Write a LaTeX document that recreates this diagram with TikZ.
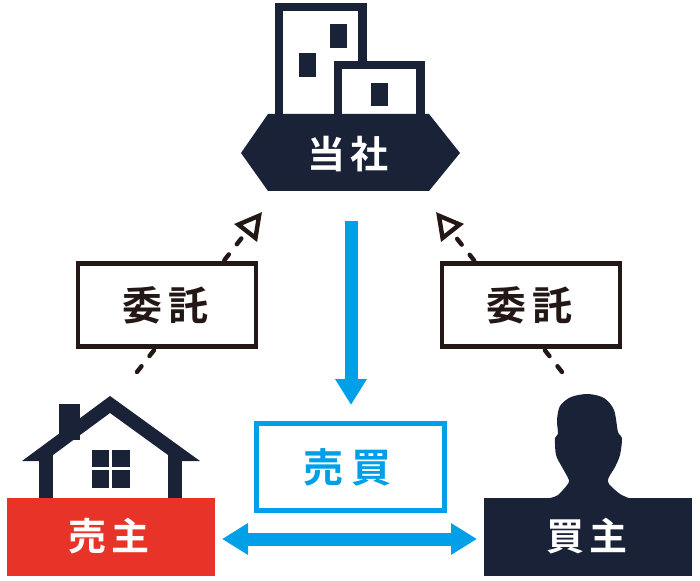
\documentclass[tikz,border=0pt]{standalone}
\usepackage{fontspec}
\usetikzlibrary{arrows.meta}
\newfontfamily\jpfont{Noto Sans CJK JP Bold}
\definecolor{navy}{HTML}{1A2238}
\definecolor{skyblue}{HTML}{00A0E9}
\definecolor{sellred}{HTML}{E83428}
\definecolor{inkk}{HTML}{231815}
\tikzset{
  jp/.style={font=\jpfont\fontsize{30}{30}\selectfont},
  jpsmall/.style={font=\jpfont\fontsize{28.5}{28.5}\selectfont},
  bannerbox/.style={draw=none,inner sep=0pt,outer sep=0pt,jpsmall,text=white},
  commission/.style={draw=inkk,line width=3.3pt,fill=white,minimum width=133.5pt,minimum height=62pt,inner sep=0pt,jp,text=inkk},
  trade/.style={draw=skyblue,line width=3.3pt,fill=white,minimum width=141pt,minimum height=65pt,inner sep=0pt,jp,text=skyblue},
  dashlink/.style={draw=inkk,line width=3.3pt,line cap=round,dash pattern=on 5.5pt off 9.7pt,
    -{Triangle[open,length=20pt,width=21pt,line width=3.3pt,line cap=butt]}},
  flow/.style={draw=skyblue,line width=9.75pt},
  flowtip/.tip={Triangle[length=19.5pt,width=22.5pt]},
}
\begin{document}
\begin{tikzpicture}[x=0.75pt,y=-0.75pt]
\useasboundingbox (0,0) rectangle (700,581);
% company building
\draw[navy,line width=6.2pt,fill=white] (279,120) -- (279,7) -- (362.5,7) -- (362.5,120);
\draw[navy,line width=6.2pt,fill=white] (338,120) -- (338,65) -- (420.5,65) -- (420.5,120);
\fill[navy] (329.5,24) rectangle (347,48);
\fill[navy] (299,53.5) rectangle (316,77);
\fill[navy] (370.5,83) rectangle (388,106);
\fill[navy] (268,114) -- (429,114) -- (460,153) -- (429,191) -- (268,191) -- (241,153) -- cycle;
\node[bannerbox] (company) at (348,154.5) {当\hspace{0.12em}社};
% house
\fill[navy] (39,455) rectangle (53,500);
\fill[navy] (168,455) rectangle (182,500);
\fill[navy] (59,404) rectangle (80,440);
\fill[navy] (110,396) -- (200,461) -- (182,461) -- (168,455) -- (110,413) -- (53,455) -- (39,461) -- (22,461) -- cycle;
\fill[navy] (92,449.5) rectangle (109,467);
\fill[navy] (112,449.5) rectangle (130,467);
\fill[navy] (92,470) rectangle (109,488);
\fill[navy] (112,470) rectangle (130,488);
\fill[sellred] (7,498) rectangle (214.5,576);
\node[bannerbox] (seller) at (109,536) {売\hspace{0.15em}主};
% buyer
\fill[navy] plot[smooth,tension=0.5] coordinates {(548,498.5) (558,495) (568.5,483) (568,478) (562,467) (556,455) (555,438) (558,434) (557,420) (560,406) (571,397) (588,394) (604,398) (614,410) (618,432) (622,438) (620,455) (615,467) (608.5,478) (609,484) (620,494) (630,498.5)};
\fill[navy] (484,498) rectangle (692,576);
\node[bannerbox] (buyer) at (587,536) {買\hspace{0.12em}主};
% commission links
\coordinate (sellerlink) at (137,372);
\coordinate (buyerlink) at (562,372);
\coordinate (leftapex) at (262,212);
\coordinate (rightapex) at (436,212);
\draw[dashlink] (sellerlink) -- (leftapex);
\draw[dashlink] (buyerlink) -- (rightapex);
\node[commission] (commL) at (167,305) {\hspace*{-2pt}委\hspace{0.14em}託};
\node[commission] (commR) at (531,305) {\hspace*{-2pt}委\hspace{0.14em}託};
% trade
\node[trade] (trade) at (350.5,467) {\hspace*{-4.5pt}売\hspace{0.2em}買};
\coordinate (flowtop) at (351,221);
\coordinate (flowend) at (351,405);
\coordinate (hleft) at (222,539);
\coordinate (hright) at (477,539);
\draw[flow,-{flowtip}] (flowtop) -- (flowend);
\draw[flow,{flowtip}-{flowtip}] (hleft) -- (hright);
\end{tikzpicture}
\end{document}
